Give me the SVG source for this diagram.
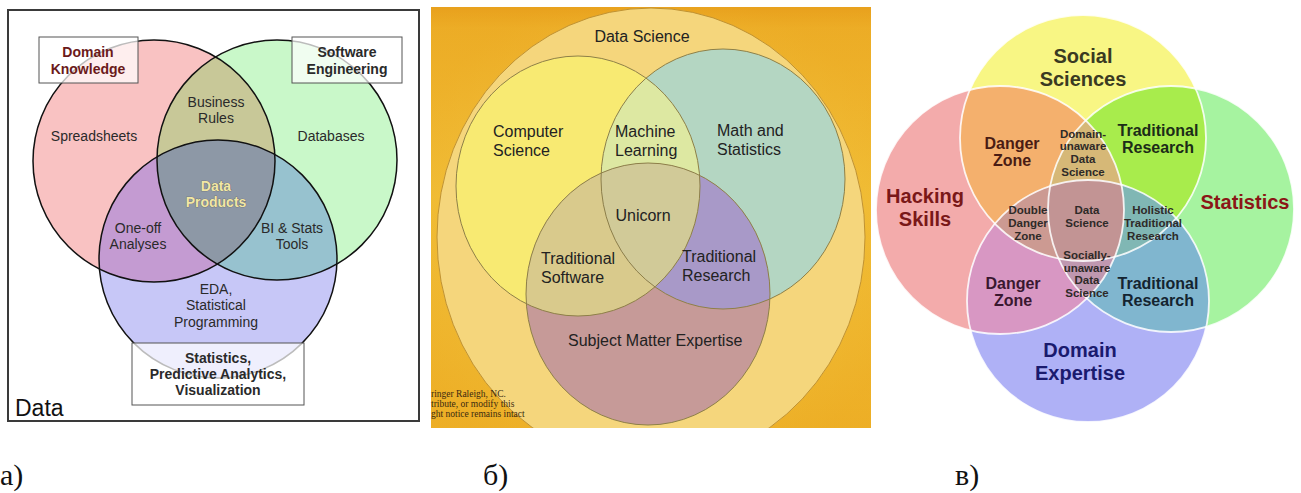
<svg xmlns="http://www.w3.org/2000/svg" width="1301" height="493" viewBox="0 0 1301 493">
<style>
.sa{font-family:"Liberation Sans",Arial,sans-serif;font-size:14px;fill:#2a2a2a;text-anchor:middle}
.sab{font-family:"Liberation Sans",Arial,sans-serif;font-size:14px;font-weight:bold;fill:#2a2a2a;text-anchor:middle}
.sb{font-family:"Liberation Sans",Arial,sans-serif;font-size:16px;fill:#222}
.sc{font-family:"Liberation Sans",Arial,sans-serif;font-weight:bold;text-anchor:middle}
.big{font-size:20px}
.mid{font-size:16px}
.sm{font-size:11.5px;fill:#2e2a28}
.cap{font-family:"Liberation Serif","Times New Roman",serif;font-size:30px;fill:#111}
.ol{fill:none;stroke:#111;stroke-width:1.5}
.olb{fill:none;stroke:#8e8048;stroke-width:1}
.olc{fill:none;stroke:#fff;stroke-width:1.8;stroke-opacity:0.85}
.box{fill:#fff;fill-opacity:0.72;stroke:#555;stroke-width:1}
</style>
<defs>
<clipPath id="caP"><circle cx="154" cy="161" r="121"/></clipPath>
<clipPath id="caG"><circle cx="277" cy="160" r="120"/></clipPath>
<clipPath id="cbCS"><ellipse cx="578" cy="186" rx="122" ry="130"/></clipPath>
<clipPath id="cbTE"><ellipse cx="723" cy="179" rx="122" ry="130"/></clipPath>
<clipPath id="cbPanel"><rect x="431" y="7" width="440" height="421"/></clipPath>
<clipPath id="ccY"><circle cx="1083" cy="138" r="123"/></clipPath>
<clipPath id="ccP"><circle cx="1000" cy="210" r="124"/></clipPath>
<clipPath id="ccG"><circle cx="1171" cy="209" r="123"/></clipPath>
<clipPath id="ccB"><circle cx="1088" cy="301" r="121"/></clipPath>
<linearGradient id="bgB" x1="0" y1="0" x2="0" y2="1">
<stop offset="0" stop-color="#e8a01c"/>
<stop offset="0.05" stop-color="#eeb22a"/>
<stop offset="0.45" stop-color="#f3c63c"/>
<stop offset="1" stop-color="#efb52a"/>
</linearGradient>
<radialGradient id="bgB2" cx="0.5" cy="0.55" r="0.6">
<stop offset="0" stop-color="#f6d458" stop-opacity="0.5"/>
<stop offset="1" stop-color="#e9a21e" stop-opacity="0.35"/>
</radialGradient>
</defs>

<rect width="1301" height="493" fill="#fff"/>

<!-- Panel a -->
<g id="panel-a">
<rect x="8" y="10" width="411" height="411" fill="#fff" stroke="#3a3a3a" stroke-width="2"/>
<g id="a-domain">
<circle cx="154" cy="161" r="121" fill="#f9c2c2"/>
</g>
<g id="a-software">
<circle cx="277" cy="160" r="120" fill="#c9f8c9"/>
</g>
<g id="a-stats">
<circle cx="218" cy="259" r="119" fill="#c7c7f7"/>
</g>
<g id="a-overlaps">
<circle cx="277" cy="160" r="120" fill="#c8c898" clip-path="url(#caP)"/>
<circle cx="218" cy="259" r="119" fill="#c49bd2" clip-path="url(#caP)"/>
<circle cx="218" cy="259" r="119" fill="#97c2cf" clip-path="url(#caG)"/>
<g clip-path="url(#caP)"><circle cx="218" cy="259" r="119" fill="#8d98a6" clip-path="url(#caG)"/></g>
</g>
<circle class="ol" cx="154" cy="161" r="121"/>
<circle class="ol" cx="277" cy="160" r="120"/>
<circle class="ol" cx="218" cy="259" r="119"/>
<g id="a-box-domain">
<rect class="box" x="39" y="37" width="99" height="46"/>
<text class="sab" x="88" y="57" style="fill:#6b1a1a">Domain</text>
<text class="sab" x="88" y="74" style="fill:#6b1a1a">Knowledge</text>
</g>
<g id="a-box-software">
<rect class="box" x="292" y="37" width="110" height="46"/>
<text class="sab" x="347" y="57">Software</text>
<text class="sab" x="347" y="74">Engineering</text>
</g>
<g id="a-box-stats">
<rect class="box" x="132" y="343" width="172" height="62"/>
<text class="sab" x="218" y="363">Statistics,</text>
<text class="sab" x="218" y="379">Predictive Analytics,</text>
<text class="sab" x="218" y="395">Visualization</text>
</g>
<g id="a-labels">
<text class="sa" x="216" y="107">Business</text>
<text class="sa" x="216" y="123">Rules</text>
<text class="sa" x="94" y="141">Spreadsheets</text>
<text class="sa" x="331" y="141">Databases</text>
<text class="sab" x="216" y="191" style="fill:#f1e7a4;stroke:#5e5e5e;stroke-width:0.7;paint-order:stroke">Data</text>
<text class="sab" x="216" y="207" style="fill:#f1e7a4;stroke:#5e5e5e;stroke-width:0.7;paint-order:stroke">Products</text>
<text class="sa" x="138" y="233">One-off</text>
<text class="sa" x="138" y="249">Analyses</text>
<text class="sa" x="292" y="233">BI &amp; Stats</text>
<text class="sa" x="292" y="249">Tools</text>
<text class="sa" x="216" y="294">EDA,</text>
<text class="sa" x="216" y="310">Statistical</text>
<text class="sa" x="216" y="327">Programming</text>
<text x="15" y="416" style="font-family:'Liberation Sans',Arial,sans-serif;font-size:23px;fill:#111">Data</text>
</g>
</g>

<!-- Panel b -->
<g id="panel-b">
<rect x="431" y="7" width="440" height="421" fill="url(#bgB)"/>
<rect x="431" y="7" width="440" height="421" fill="url(#bgB2)"/>
<g clip-path="url(#cbPanel)">
<g id="b-datascience">
<ellipse cx="651" cy="237" rx="214" ry="229" fill="#f5d67c" stroke="#c09232" stroke-width="1"/>
</g>
<g id="b-cs">
<ellipse cx="578" cy="186" rx="122" ry="130" fill="#f8ea72"/>
</g>
<g id="b-math">
<ellipse cx="723" cy="179" rx="122" ry="130" fill="#b4d6c2"/>
</g>
<g id="b-subject">
<ellipse cx="648" cy="294" rx="122" ry="131" fill="#c69a98"/>
</g>
<g id="b-overlaps">
<ellipse cx="723" cy="179" rx="122" ry="130" fill="#dde8a2" clip-path="url(#cbCS)"/>
<ellipse cx="648" cy="294" rx="122" ry="131" fill="#d9ca8c" clip-path="url(#cbCS)"/>
<ellipse cx="648" cy="294" rx="122" ry="131" fill="#a899c8" clip-path="url(#cbTE)"/>
<g clip-path="url(#cbCS)"><ellipse cx="648" cy="294" rx="122" ry="131" fill="#d1ca98" clip-path="url(#cbTE)"/></g>
</g>
<ellipse class="olb" cx="578" cy="186" rx="122" ry="130"/>
<ellipse class="olb" cx="723" cy="179" rx="122" ry="130"/>
<ellipse class="olb" cx="648" cy="294" rx="122" ry="131"/>
</g>
<g id="b-labels">
<text class="sb" x="642" y="42" text-anchor="middle">Data Science</text>
<text class="sb" x="493" y="137">Computer</text>
<text class="sb" x="493" y="156">Science</text>
<text class="sb" x="615" y="137">Machine</text>
<text class="sb" x="615" y="156">Learning</text>
<text class="sb" x="717" y="136">Math and</text>
<text class="sb" x="717" y="155">Statistics</text>
<text class="sb" x="643" y="221" text-anchor="middle">Unicorn</text>
<text class="sb" x="541" y="264">Traditional</text>
<text class="sb" x="541" y="283">Software</text>
<text class="sb" x="682" y="262">Traditional</text>
<text class="sb" x="682" y="281">Research</text>
<text class="sb" x="568" y="346">Subject Matter Expertise</text>
<g style="font-family:'Liberation Serif','Times New Roman',serif;font-size:9.5px;fill:#3a2a10">
<text x="431" y="397">ringer Raleigh, NC.</text>
<text x="431" y="407">tribute, or modify this</text>
<text x="431" y="417">ght notice remains intact</text>
</g>
</g>
</g>

<!-- Panel c -->
<g id="panel-c">
<g id="c-social"><circle cx="1083" cy="138" r="123" fill="#f8f684"/></g>
<g id="c-hacking"><circle cx="1000" cy="210" r="124" fill="#f3abab"/></g>
<g id="c-statistics"><circle cx="1171" cy="209" r="123" fill="#a6f3a0"/></g>
<g id="c-domain"><circle cx="1088" cy="301" r="121" fill="#afb1f6"/></g>
<g id="c-overlaps">
<circle cx="1000" cy="210" r="124" fill="#f4b06d" clip-path="url(#ccY)"/>
<circle cx="1171" cy="209" r="123" fill="#a8ec4c" clip-path="url(#ccY)"/>
<circle cx="1088" cy="301" r="121" fill="#d897c3" clip-path="url(#ccP)"/>
<circle cx="1088" cy="301" r="121" fill="#80b6cf" clip-path="url(#ccG)"/>
<g clip-path="url(#ccY)"><circle cx="1171" cy="209" r="123" fill="#d6b877" clip-path="url(#ccP)"/></g>
<g clip-path="url(#ccY)"><circle cx="1088" cy="301" r="121" fill="#cc9a92" clip-path="url(#ccP)"/></g>
<g clip-path="url(#ccY)"><circle cx="1088" cy="301" r="121" fill="#80b7b4" clip-path="url(#ccG)"/></g>
<g clip-path="url(#ccP)"><circle cx="1088" cy="301" r="121" fill="#bf98b0" clip-path="url(#ccG)"/></g>
<g clip-path="url(#ccY)"><g clip-path="url(#ccP)"><circle cx="1088" cy="301" r="121" fill="#c29494" clip-path="url(#ccG)"/></g></g>
</g>
<circle class="olc" cx="1083" cy="138" r="123"/>
<circle class="olc" cx="1000" cy="210" r="124"/>
<circle class="olc" cx="1171" cy="209" r="123"/>
<circle class="olc" cx="1088" cy="301" r="121"/>
<g id="c-labels">
<text class="sc big" x="1083" y="63" fill="#3a3a22">Social</text>
<text class="sc big" x="1083" y="86" fill="#3a3a22">Sciences</text>
<text class="sc big" x="925" y="203" fill="#7a1818">Hacking</text>
<text class="sc big" x="925" y="226" fill="#7a1818">Skills</text>
<text class="sc big" x="1245" y="209" fill="#8b1616">Statistics</text>
<text class="sc big" x="1080" y="357" fill="#1a1a6e">Domain</text>
<text class="sc big" x="1080" y="380" fill="#1a1a6e">Expertise</text>
<text class="sc mid" x="1012" y="149" fill="#4a1c14">Danger</text>
<text class="sc mid" x="1012" y="166" fill="#4a1c14">Zone</text>
<text class="sc mid" x="1158" y="136" fill="#1c2c18">Traditional</text>
<text class="sc mid" x="1158" y="153" fill="#1c2c18">Research</text>
<text class="sc mid" x="1013" y="289" fill="#3a1830">Danger</text>
<text class="sc mid" x="1013" y="306" fill="#3a1830">Zone</text>
<text class="sc mid" x="1158" y="289" fill="#142430">Traditional</text>
<text class="sc mid" x="1158" y="306" fill="#142430">Research</text>
<text class="sc sm" x="1083" y="138">Domain-</text>
<text class="sc sm" x="1083" y="150">unaware</text>
<text class="sc sm" x="1083" y="163">Data</text>
<text class="sc sm" x="1083" y="176">Science</text>
<text class="sc sm" x="1028" y="214">Double</text>
<text class="sc sm" x="1028" y="227">Danger</text>
<text class="sc sm" x="1028" y="240">Zone</text>
<text class="sc sm" x="1087" y="214">Data</text>
<text class="sc sm" x="1087" y="227">Science</text>
<text class="sc sm" x="1153" y="214">Holistic</text>
<text class="sc sm" x="1153" y="227">Traditional</text>
<text class="sc sm" x="1153" y="240">Research</text>
<text class="sc sm" x="1087" y="259">Socially-</text>
<text class="sc sm" x="1087" y="272">unaware</text>
<text class="sc sm" x="1087" y="284">Data</text>
<text class="sc sm" x="1087" y="297">Science</text>
</g>
</g>

<g id="connectors"/>

<g id="captions">
<text class="cap" x="0" y="485">а)</text>
<text class="cap" x="483" y="485">б)</text>
<text class="cap" x="955" y="485">в)</text>
</g>
</svg>
